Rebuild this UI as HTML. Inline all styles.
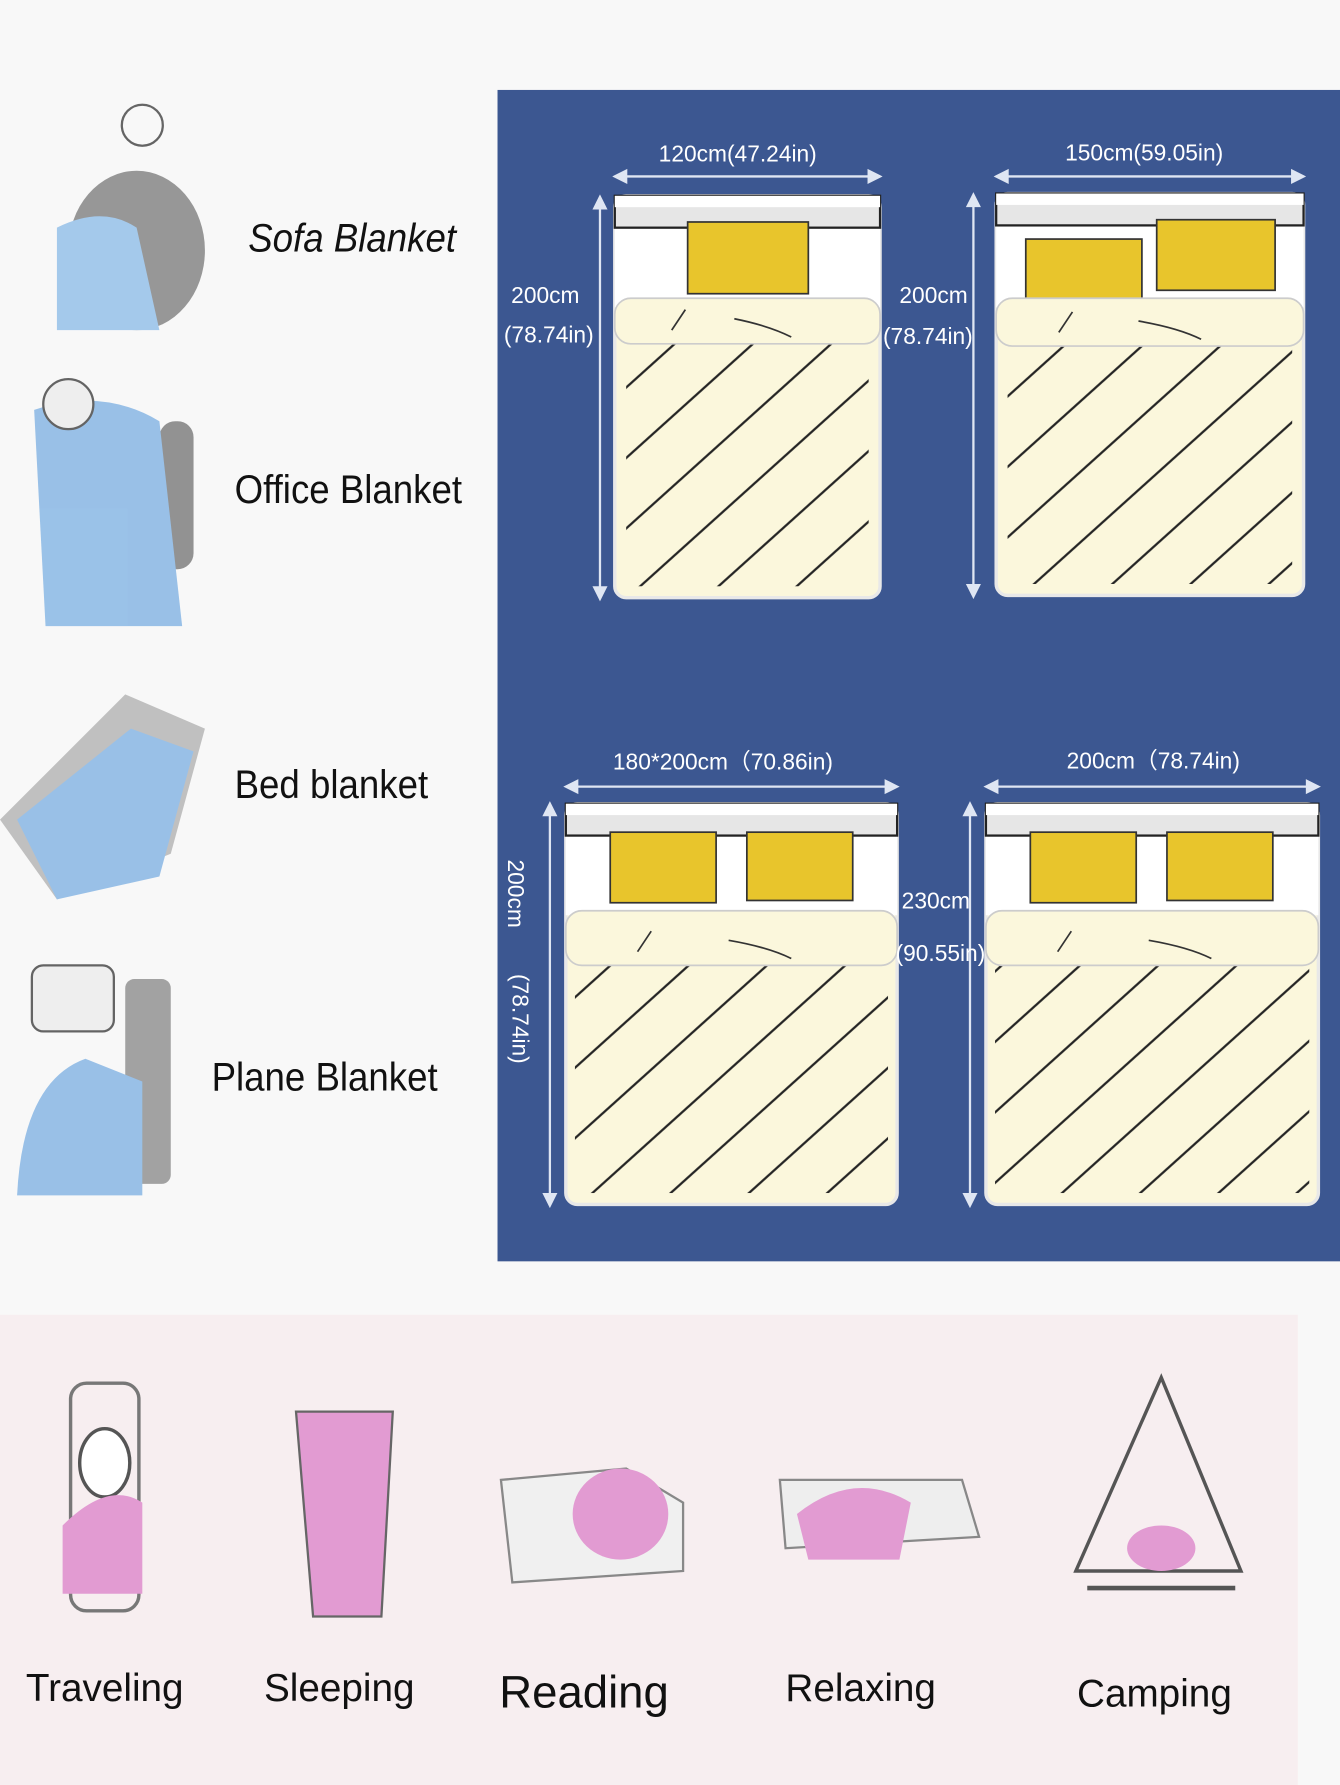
<!DOCTYPE html>
<html><head><meta charset="utf-8"><style>html,body{margin:0;padding:0;background:#fafafa}svg{display:block}</style></head>
<body>
<svg width="1340" height="1785" viewBox="0 0 1177 1568" preserveAspectRatio="none" xmlns="http://www.w3.org/2000/svg" font-family="Liberation Sans, sans-serif">
<defs>
<pattern id="h" width="46" height="46" patternUnits="userSpaceOnUse" patternTransform="rotate(-42)">
<rect width="46" height="46" fill="#fbf7dc"/><line x1="0" y1="23" x2="46" y2="23" stroke="#222" stroke-width="2"/>
</pattern>
<g id="a"></g>
</defs>
<rect width="1177" height="1568" fill="#f8f8f8"/>
<rect x="0" y="1155" width="1140" height="413" fill="#f7eef0"/>
<rect x="437" y="79" width="740" height="1029" fill="#3c5791"/>

<!-- Bed 1 -->
<g>
<rect x="540" y="172" width="233" height="353" rx="10" fill="#fbf7dc" stroke="#e8e8e8" stroke-width="3"/>
<rect x="540" y="200" width="233" height="70" fill="#fff"/>
<rect x="540" y="172" width="233" height="28" fill="#e6e6e6" stroke="#222" stroke-width="2"/>
<rect x="540" y="172" width="233" height="10" fill="#fff"/>
<rect x="604" y="195" width="106" height="63" fill="#e8c52c" stroke="#333" stroke-width="1.5"/>
<rect x="550" y="302" width="213" height="213" fill="url(#h)"/>
<rect x="540" y="262" width="233" height="40" rx="14" fill="#fbf7dc" stroke="#ccc" stroke-width="1.5"/>
<path d="M590 290 q8 -12 12 -18 M645 280 q30 6 50 16" stroke="#333" fill="none" stroke-width="1.5"/>
</g>
<!-- Bed 2 -->
<g>
<rect x="875" y="170" width="270" height="353" rx="10" fill="#fbf7dc" stroke="#e8e8e8" stroke-width="3"/>
<rect x="875" y="198" width="270" height="72" fill="#fff"/>
<rect x="875" y="170" width="270" height="28" fill="#e6e6e6" stroke="#222" stroke-width="2"/>
<rect x="875" y="170" width="270" height="10" fill="#fff"/>
<rect x="901" y="210" width="102" height="58" fill="#e8c52c" stroke="#333" stroke-width="1.5"/>
<rect x="1016" y="193" width="104" height="62" fill="#e8c52c" stroke="#333" stroke-width="1.5"/>
<rect x="885" y="302" width="250" height="211" fill="url(#h)"/>
<rect x="875" y="262" width="270" height="42" rx="14" fill="#fbf7dc" stroke="#ccc" stroke-width="1.5"/>
<path d="M930 292 q8 -12 12 -18 M1000 282 q35 6 55 16" stroke="#333" fill="none" stroke-width="1.5"/>
</g>
<!-- Bed 3 -->
<g>
<rect x="497" y="706" width="291" height="352" rx="10" fill="#fbf7dc" stroke="#e8e8e8" stroke-width="3"/>
<rect x="497" y="734" width="291" height="70" fill="#fff"/>
<rect x="497" y="706" width="291" height="28" fill="#e6e6e6" stroke="#222" stroke-width="2"/>
<rect x="497" y="706" width="291" height="10" fill="#fff"/>
<rect x="536" y="731" width="93" height="62" fill="#e8c52c" stroke="#333" stroke-width="1.5"/>
<rect x="656" y="731" width="93" height="60" fill="#e8c52c" stroke="#333" stroke-width="1.5"/>
<rect x="505" y="846" width="275" height="202" fill="url(#h)"/>
<rect x="497" y="800" width="291" height="48" rx="14" fill="#fbf7dc" stroke="#ccc" stroke-width="1.5"/>
<path d="M560 836 q8 -12 12 -18 M640 826 q35 6 55 16" stroke="#333" fill="none" stroke-width="1.5"/>
</g>
<!-- Bed 4 -->
<g>
<rect x="866" y="706" width="292" height="352" rx="10" fill="#fbf7dc" stroke="#e8e8e8" stroke-width="3"/>
<rect x="866" y="734" width="292" height="70" fill="#fff"/>
<rect x="866" y="706" width="292" height="28" fill="#e6e6e6" stroke="#222" stroke-width="2"/>
<rect x="866" y="706" width="292" height="10" fill="#fff"/>
<rect x="905" y="731" width="93" height="62" fill="#e8c52c" stroke="#333" stroke-width="1.5"/>
<rect x="1025" y="731" width="93" height="60" fill="#e8c52c" stroke="#333" stroke-width="1.5"/>
<rect x="874" y="846" width="276" height="202" fill="url(#h)"/>
<rect x="866" y="800" width="292" height="48" rx="14" fill="#fbf7dc" stroke="#ccc" stroke-width="1.5"/>
<path d="M929 836 q8 -12 12 -18 M1009 826 q35 6 55 16" stroke="#333" fill="none" stroke-width="1.5"/>
</g>

<!-- dimension arrows -->
<g stroke="#dfe6f3" stroke-width="2" fill="#dfe6f3">
<line x1="545" y1="155" x2="768" y2="155"/><path d="M540 155 l10 -5 v10z M773 155 l-10 -5 v10z"/>
<line x1="527" y1="180" x2="527" y2="520"/><path d="M527 173 l-5 10 h10z M527 526 l-5 -10 h10z"/>
<line x1="880" y1="155" x2="1140" y2="155"/><path d="M875 155 l10 -5 v10z M1145 155 l-10 -5 v10z"/>
<line x1="855" y1="178" x2="855" y2="518"/><path d="M855 171 l-5 10 h10z M855 524 l-5 -10 h10z"/>
<line x1="502" y1="691" x2="783" y2="691"/><path d="M497 691 l10 -5 v10z M788 691 l-10 -5 v10z"/>
<line x1="483" y1="712" x2="483" y2="1053"/><path d="M483 706 l-5 10 h10z M483 1059 l-5 -10 h10z"/>
<line x1="871" y1="691" x2="1153" y2="691"/><path d="M866 691 l10 -5 v10z M1158 691 l-10 -5 v10z"/>
<line x1="852" y1="712" x2="852" y2="1053"/><path d="M852 706 l-5 10 h10z M852 1059 l-5 -10 h10z"/>
</g>
<g fill="#fff" font-size="20" text-anchor="middle">
<text x="648" y="142">120cm(47.24in)</text>
<text x="1005" y="141">150cm(59.05in)</text>
<text x="479" y="266">200cm</text>
<text x="482" y="301">(78.74in)</text>
<text x="820" y="266">200cm</text>
<text x="815" y="302">(78.74in)</text>
<text x="635" y="676">180*200cm（70.86in)</text>
<text x="1013" y="675">200cm（78.74in)</text>
<text x="822" y="798">230cm</text>
<text x="826" y="844">(90.55in)</text>
<text transform="translate(446,785) rotate(90)">200cm</text>
<text transform="translate(450,895) rotate(90)">(78.74in)</text>
</g>

<!-- left illustrations -->
<g opacity="0.9">
<ellipse cx="120" cy="220" rx="60" ry="70" fill="#8d8d8d"/>
<path d="M50 200 q40 -20 70 0 l20 90 h-90z" fill="#9cc4ea"/>
<circle cx="125" cy="110" r="18" fill="none" stroke="#555" stroke-width="2"/>
<rect x="140" y="370" width="30" height="130" rx="14" fill="#888"/>
<path d="M30 360 q60 -20 110 10 l20 180 h-120z" fill="#8fbbe6"/>
<circle cx="60" cy="355" r="22" fill="#eee" stroke="#555" stroke-width="2"/>
<path d="M0 720 l110 -110 l70 30 l-30 110 l-100 40z" fill="#bbb"/>
<path d="M15 720 l100 -80 l55 20 l-30 110 l-90 20z" fill="#8fbbe6"/>
<rect x="28" y="848" width="72" height="58" rx="10" fill="#eee" stroke="#555" stroke-width="2"/>
<rect x="110" y="860" width="40" height="180" rx="8" fill="#999"/>
<path d="M15 1050 q5 -100 60 -120 l50 20 v100z" fill="#8fbbe6"/>
</g>
<g font-size="35" fill="#111" transform="scale(0.92,1)">
<text x="237" y="221" font-style="italic">Sofa Blanket</text>
<text x="224" y="442">Office Blanket</text>
<text x="224" y="701">Bed blanket</text>
<text x="202" y="958">Plane Blanket</text>
</g>

<!-- bottom illustrations -->
<g>
<rect x="62" y="1215" width="60" height="200" rx="14" fill="none" stroke="#777" stroke-width="3"/>
<ellipse cx="92" cy="1285" rx="22" ry="30" fill="#fff" stroke="#555" stroke-width="3"/>
<path d="M55 1340 q40 -40 70 -20 v80 h-70z" fill="#e29bd2"/>
<path d="M260 1240 h85 l-10 180 h-60z" fill="#e29bd2" stroke="#666" stroke-width="2"/>
<path d="M440 1300 l110 -10 l50 30 v60 l-150 10z" fill="#f0f0f0" stroke="#888" stroke-width="2"/>
<ellipse cx="545" cy="1330" rx="42" ry="40" fill="#e29bd2"/>
<path d="M685 1300 l160 0 l15 50 l-170 10z" fill="#eee" stroke="#888" stroke-width="2"/>
<path d="M700 1330 q50 -40 100 -10 l-10 50 l-80 0z" fill="#e29bd2"/>
<path d="M945 1380 l75 -170 l70 170z" fill="none" stroke="#555" stroke-width="3"/>
<path d="M955 1395 h130" stroke="#555" stroke-width="4"/>
<ellipse cx="1020" cy="1360" rx="30" ry="20" fill="#e29bd2"/>
</g>
<g font-size="34" fill="#111" text-anchor="middle">
<text x="92" y="1494">Traveling</text>
<text x="298" y="1494">Sleeping</text>
<text x="513" y="1500" font-size="40" transform="translate(0,0)">Reading</text>
<text x="756" y="1494">Relaxing</text>
<text x="1014" y="1499">Camping</text>
</g>
</svg>
</body></html>
